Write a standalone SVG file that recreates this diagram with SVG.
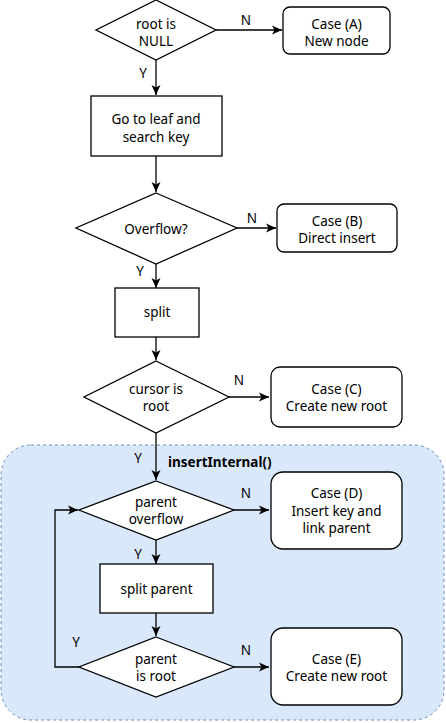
<svg xmlns="http://www.w3.org/2000/svg" width="446" height="723" viewBox="0 0 446 723">
<style>
text{font-family:"Noto Sans","Open Sans",sans-serif;font-size:13.5px;fill:#000;text-anchor:middle}
.b{font-weight:bold;text-anchor:start;font-size:13.5px}
.s{fill:#fff;stroke:#000;stroke-width:1.3}
.e{fill:none;stroke:#000;stroke-width:1.3}
</style>
<defs>
<marker id="ar" markerUnits="userSpaceOnUse" markerWidth="12" markerHeight="10" refX="10" refY="5" orient="auto">
<path d="M0,0.5 L10,5 L0,9.5 L2.5,5 Z" fill="#000"/>
</marker>
</defs>
<g id="container">
<rect x="1" y="445" width="443" height="275" rx="30" fill="#dae8fc" stroke="#6c8ebf" stroke-width="1" stroke-dasharray="3,3"/>
<text class="b" x="168" y="467">insertInternal()</text>
</g>
<g id="connectors">
<path class="e" d="M216,30 H282" marker-end="url(#ar)"/>
<path class="e" d="M156,60 V95" marker-end="url(#ar)"/>
<path class="e" d="M156,156 V192" marker-end="url(#ar)"/>
<path class="e" d="M237,228 H276" marker-end="url(#ar)"/>
<path class="e" d="M156,264 V288" marker-end="url(#ar)"/>
<path class="e" d="M156,337 V360" marker-end="url(#ar)"/>
<path class="e" d="M229,397 H269" marker-end="url(#ar)"/>
<path class="e" d="M156,433 V480" marker-end="url(#ar)"/>
<path class="e" d="M234,510 H269" marker-end="url(#ar)"/>
<path class="e" d="M156,540 V564" marker-end="url(#ar)"/>
<path class="e" d="M156,613 V636" marker-end="url(#ar)"/>
<path class="e" d="M234,667 H269" marker-end="url(#ar)"/>
<path class="e" d="M79,667 H55 V510 H78" marker-end="url(#ar)"/>
<text x="246" y="25">N</text>
<text x="143" y="78">Y</text>
<text x="252" y="223">N</text>
<text x="140" y="276">Y</text>
<text x="239" y="385">N</text>
<text x="138" y="463">Y</text>
<text x="246" y="498">N</text>
<text x="138" y="559">Y</text>
<text x="76" y="647">Y</text>
<text x="246" y="655">N</text>
</g>
<g id="rootIsNull">
<path class="s" d="M156,0 L216,30 L156,60 L96,30 Z"/>
<text x="156" y="28.5">root is</text>
<text x="156" y="46">NULL</text>
</g>
<g id="caseA">
<rect class="s" x="283" y="7" width="107" height="47" rx="7"/>
<text x="336.5" y="28.5">Case (A)</text>
<text x="336.5" y="46">New node</text>
</g>
<g id="goToLeaf">
<rect class="s" x="91" y="96" width="131" height="60"/>
<text x="156" y="123.5">Go to leaf and</text>
<text x="156" y="141.5">search key</text>
</g>
<g id="overflow">
<path class="s" d="M156,193 L237,228 L156,264 L76,228 Z"/>
<text x="156" y="234">Overflow?</text>
</g>
<g id="caseB">
<rect class="s" x="277" y="204" width="120" height="48" rx="7"/>
<text x="337" y="225.5">Case (B)</text>
<text x="337" y="243">Direct insert</text>
</g>
<g id="split">
<rect class="s" x="115" y="288" width="84" height="49"/>
<text x="157" y="317">split</text>
</g>
<g id="cursorIsRoot">
<path class="s" d="M156,361 L229,397 L156,433 L84,397 Z"/>
<text x="156" y="393.5">cursor is</text>
<text x="156" y="411">root</text>
</g>
<g id="caseC">
<rect class="s" x="271" y="367" width="131" height="60" rx="9"/>
<text x="336.5" y="393.5">Case (C)</text>
<text x="336.5" y="411">Create new root</text>
</g>
<g id="parentOverflow">
<path class="s" d="M156,481 L234,510 L156,540 L79,510 Z"/>
<text x="156" y="506.5">parent</text>
<text x="156" y="524">overflow</text>
</g>
<g id="caseD">
<rect class="s" x="271" y="472" width="131" height="77" rx="12"/>
<text x="336.5" y="498">Case (D)</text>
<text x="336.5" y="515.5">Insert key and</text>
<text x="336.5" y="533">link parent</text>
</g>
<g id="splitParent">
<rect class="s" x="100" y="564" width="113" height="49"/>
<text x="156.5" y="594">split parent</text>
</g>
<g id="parentIsRoot">
<path class="s" d="M156,637 L234,667 L156,697 L79,667 Z"/>
<text x="156" y="663.5">parent</text>
<text x="156" y="681">is root</text>
</g>
<g id="caseE">
<rect class="s" x="271" y="628" width="131" height="77" rx="12"/>
<text x="336.5" y="663.5">Case (E)</text>
<text x="336.5" y="681">Create new root</text>
</g>
</svg>
